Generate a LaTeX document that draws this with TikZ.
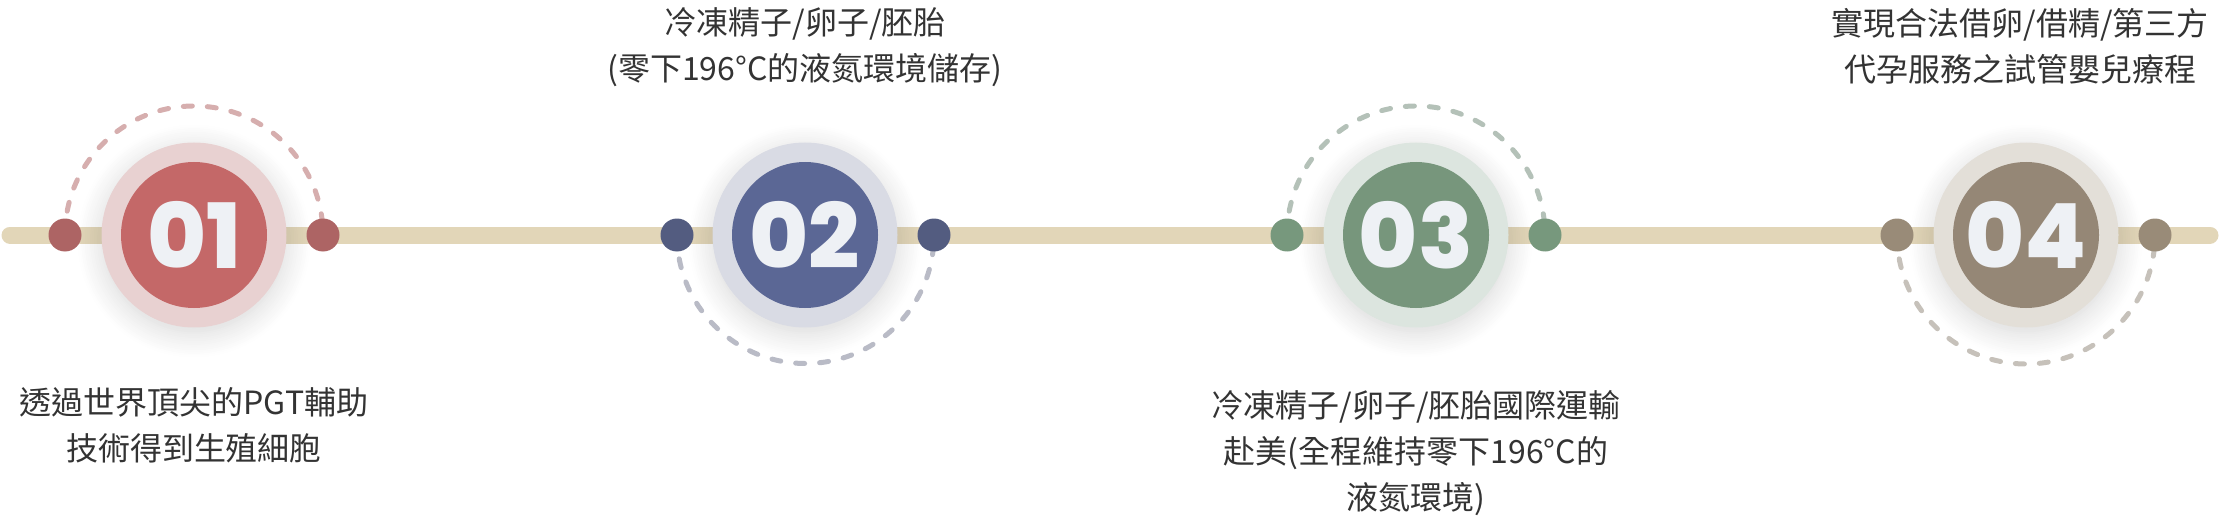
\documentclass[tikz,border=0pt]{standalone}
\usepackage{fontspec}
\newfontfamily\cjk{Noto Sans CJK TC}
\newfontfamily\numfont{Poppins ExtraBold}
\usetikzlibrary{positioning,shadows.blur}

\definecolor{trackcol}{HTML}{E2D6B8}
\definecolor{numcol}{HTML}{EEF1F5}
\definecolor{txtcol}{HTML}{333333}
\definecolor{coreA}{HTML}{C46868}
\definecolor{ringA}{HTML}{E8D1D1}
\definecolor{dotA}{HTML}{AD6464}
\definecolor{dashA}{HTML}{D6AEAE}
\definecolor{coreB}{HTML}{5B6795}
\definecolor{ringB}{HTML}{D9DBE4}
\definecolor{dotB}{HTML}{535C80}
\definecolor{dashB}{HTML}{B9BBC6}
\definecolor{coreC}{HTML}{77967C}
\definecolor{ringC}{HTML}{DCE5DF}
\definecolor{dotC}{HTML}{77987D}
\definecolor{dashC}{HTML}{B4C1B8}
\definecolor{coreD}{HTML}{958776}
\definecolor{ringD}{HTML}{E3DFD8}
\definecolor{dotD}{HTML}{998B78}
\definecolor{dashD}{HTML}{C6C1BA}

\tikzset{
	track/.style={line width=17pt, line cap=round, color=trackcol},
	ring/.style={circle, minimum size=185pt, inner sep=0pt,
		blur shadow={shadow xshift=0pt, shadow yshift=-6pt, shadow blur radius=24pt, shadow blur steps=14, shadow opacity=16}},
	core/.style={circle, minimum size=146pt, inner sep=0pt, text=numcol,
		font=\numfont\fontsize{90}{90}\selectfont},
	dot/.style={circle, minimum size=33pt, inner sep=0pt},
	halfway/.style={line width=5pt, line cap=round, dash pattern=on 9pt off 15pt},
	caption/.style={align=center, inner sep=0pt, text=txtcol,
		font=\cjk\fontsize{32}{46}\selectfont},
}

\begin{document}
\begin{tikzpicture}[x=1pt, y=-1pt]
		\useasboundingbox (0,0) rectangle (2220,516);

		\coordinate (start) at (  10,235);
		\coordinate (end)   at (2210,235);
		\draw[track] (start) -- (end);

		\coordinate (c1) at ( 194,235);
		\coordinate (c2) at ( 805,235);
		\coordinate (c3) at (1416,235);
		\coordinate (c4) at (2026,235);

		\coordinate (a1) at (  65,235);
		\coordinate (b1) at ( 323,235);
		\coordinate (a2) at ( 677,235);
		\coordinate (b2) at ( 934,235);
		\coordinate (a3) at (1287,235);
		\coordinate (b3) at (1545,235);
		\coordinate (a4) at (1897,235);
		\coordinate (b4) at (2155,235);

		% dashed half circles
		\draw[halfway, dashA] (a1) arc[start angle=180, end angle=360, radius=129];
		\draw[halfway, dashB] (a2) arc[start angle=180, end angle=0,   radius=128.5];
		\draw[halfway, dashC] (a3) arc[start angle=180, end angle=360, radius=129];
		\draw[halfway, dashD] (a4) arc[start angle=180, end angle=0,   radius=129];

		\node[ring, fill=ringA] (s1) at (c1) {};
		\node[ring, fill=ringB] (s2) at (c2) {};
		\node[ring, fill=ringC] (s3) at (c3) {};
		\node[ring, fill=ringD] (s4) at (c4) {};

		\node[core, fill=coreA] (n1) at (c1) {01};
		\node[core, fill=coreB] (n2) at (c2) {02};
		\node[core, fill=coreC] (n3) at (c3) {03};
		\node[core, fill=coreD] (n4) at (c4) {04};

		\node[dot, fill=dotA] (d1a) at (a1) {};
		\node[dot, fill=dotA] (d1b) at (b1) {};
		\node[dot, fill=dotB] (d2a) at (a2) {};
		\node[dot, fill=dotB] (d2b) at (b2) {};
		\node[dot, fill=dotC] (d3a) at (a3) {};
		\node[dot, fill=dotC] (d3b) at (b3) {};
		\node[dot, fill=dotD] (d4a) at (a4) {};
		\node[dot, fill=dotD] (d4b) at (b4) {};

		\node[caption, below=60pt of s1] (t1) {透過世界頂尖的PGT輔助\\技術得到生殖細胞};
		\node[caption, above=55pt of s2] (t2) {冷凍精子/卵子/胚胎\\(零下196°C的液氮環境儲存)};
		\node[caption, below=62pt of s3] (t3) {冷凍精子/卵子/胚胎國際運輸\\赴美(全程維持零下196°C的\\液氮環境)};
		\node[caption, above=58pt of s4, xshift=-6pt] (t4) {實現合法借卵/借精/第三方\\代孕服務之試管嬰兒療程};

	\end{tikzpicture}
\end{document}
